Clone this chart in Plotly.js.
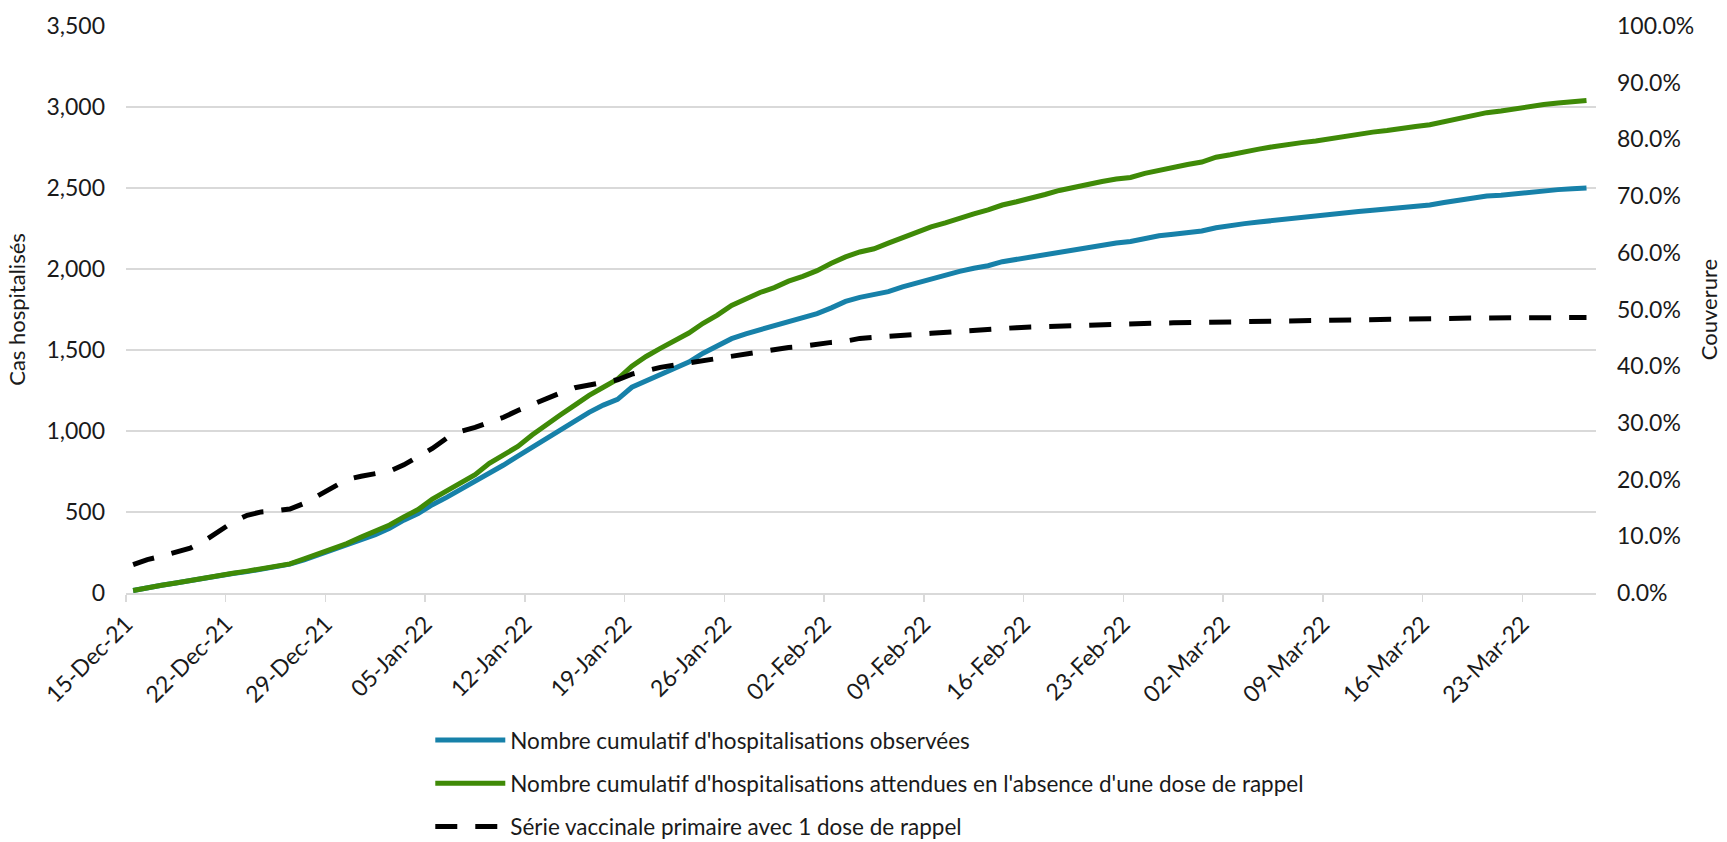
<!DOCTYPE html>
<html>
<head>
<meta charset="utf-8">
<script src="https://cdn.plot.ly/plotly-3.0.1.min.js"></script>
<style>html,body{margin:0;padding:0;background:#fff;}#chart{width:1727px;height:842px;}</style>
</head>
<body>
<div id="chart"></div>
<script>
// Daily series starting 15-Dec-21 (103 days, to 27-Mar-22)
const startDate = '2021-12-15';
const seriesNames = [
  "Nombre cumulatif d'hospitalisations observées",
  "Nombre cumulatif d'hospitalisations attendues en l'absence d'une dose de rappel",
  "Série vaccinale primaire avec 1 dose de rappel"
];
const observed = [
  15,35,48,62,78,95,108,120,132,147,162,178,205,235,265,295,325,360,400,450,
  490,545,590,640,685,740,790,845,900,955,1010,1065,1115,1160,1195,1270,1310,1345,1385,1425,
  1480,1525,1570,1600,1625,1645,1670,1695,1725,1760,1800,1825,1840,1860,1890,1915,1935,1960,1985,2005,
  2020,2045,2060,2070,2090,2105,2120,2130,2145,2160,2170,2190,2205,2215,2225,2235,2255,2270,2280,2290,
  2300,2310,2315,2325,2340,2350,2355,2362,2370,2380,2385,2395,2410,2425,2440,2450,2455,2465,2470,2480,
  2490,2495,2500
];
const expected = [
  15,35,48,62,78,95,110,122,135,150,165,180,210,240,275,305,345,380,420,470,
  515,580,630,680,730,800,855,905,975,1040,1100,1160,1220,1270,1320,1400,1460,1510,1555,1605,
  1665,1715,1775,1815,1855,1885,1925,1955,1990,2035,2075,2105,2125,2160,2195,2230,2260,2285,2315,2340,
  2365,2395,2415,2435,2460,2485,2505,2520,2540,2555,2565,2590,2610,2630,2645,2660,2690,2705,2725,2740,
  2755,2770,2780,2790,2805,2820,2835,2845,2855,2870,2880,2890,2910,2930,2950,2965,2975,2990,3000,3015,
  3025,3035,3040
];
const coverage = [
  5.0,5.9,6.5,7.2,7.9,9.2,10.8,12.5,13.7,14.3,14.5,14.8,15.8,17.2,18.8,20.0,20.6,21.0,21.5,22.6,
  24.0,25.5,27.3,28.5,29.2,30.0,31.0,32.2,33.3,34.3,35.3,36.2,36.7,37.2,37.6,38.6,39.3,39.8,40.2,40.6,
  40.9,41.3,41.9,42.3,42.7,43.1,43.3,43.5,43.9,44.2,44.4,44.9,45.1,45.2,45.4,45.6,45.8,46.0,46.2,46.4,
  46.5,46.6,46.8,46.9,47.0,47.1,47.2,47.3,47.35,47.4,47.45,47.5,47.6,47.65,47.7,47.75,47.8,47.85,47.9,47.95,
  48.0,48.05,48.1,48.1,48.15,48.2,48.2,48.25,48.3,48.3,48.35,48.4,48.4,48.45,48.5,48.5,48.5,48.55,48.55,48.6,
  48.6,48.6,48.6
];
const yLeftTitle = 'Cas hospitalisés';
const yRightTitle = 'Couverure';

// build the daily date categories (each point centred in its day)
const dates = observed.map((_, i) => {
  const d = new Date(startDate + 'T00:00:00Z');
  d.setUTCDate(d.getUTCDate() + i);
  return d.toISOString().slice(0, 10) + ' 12:00';
});

const FONT = 'Lato, "Open Sans", sans-serif';
const TXT = '#1a1a1a';

const traces = [
  {x: dates, y: observed, name: seriesNames[0], type: 'scatter', mode: 'lines',
   line: {color: '#1781A9', width: 5}, legendgroup: 'a', hoverinfo: 'x+y'},
  {x: dates, y: expected, name: seriesNames[1], type: 'scatter', mode: 'lines',
   line: {color: '#3F8A07', width: 5}, legendgroup: 'b', hoverinfo: 'x+y'},
  {x: dates, y: coverage, name: seriesNames[2], type: 'scatter', mode: 'lines', yaxis: 'y2',
   line: {color: '#000000', width: 5, dash: '22px,18px'}, legendgroup: 'c', hoverinfo: 'x+y'}
];

const layout = {
  width: 1727, height: 842,
  margin: {l: 126, r: 131, t: 26, b: 249, autoexpand: false},
  paper_bgcolor: '#fff', plot_bgcolor: '#fff',
  font: {family: FONT, size: 22, color: TXT},
  showlegend: true,
  legend: {
    orientation: 'v', x: 0.207, xanchor: 'left', y: -0.222, yanchor: 'top',
    traceorder: 'grouped', tracegroupgap: 11, itemwidth: 70,
    font: {family: FONT, size: 22.5, color: TXT}, bgcolor: 'rgba(0,0,0,0)'
  },
  xaxis: {
    type: 'date', automargin: false,
    range: ['2021-12-15 00:00', '2022-03-28 04:00'],
    tick0: '2021-12-15', dtick: 7 * 86400000,
    tickformat: '%d-%b-%y', tickangle: -45,
    ticks: 'outside', ticklen: 7, tickwidth: 1.5, tickcolor: '#d9d9d9',
    showline: true, linecolor: '#d9d9d9', linewidth: 1.5,
    showgrid: false, zeroline: false,
    tickfont: {family: FONT, size: 23, color: TXT}
  },
  yaxis: {
    range: [0, 3500], dtick: 500, tickformat: ',d', automargin: false,
    showgrid: true, gridcolor: '#d9d9d9', gridwidth: 1.5,
    zeroline: false, showline: false, ticks: '',
    ticklabelstandoff: 20,
    tickfont: {family: FONT, size: 23, color: TXT},
    title: {text: yLeftTitle, font: {family: FONT, size: 22, color: TXT}, standoff: 14}
  },
  yaxis2: {
    overlaying: 'y', side: 'right', automargin: false,
    range: [0, 100], dtick: 10, tickformat: '.1f', ticksuffix: '%',
    showgrid: false, zeroline: false, showline: false, ticks: '',
    ticklabelstandoff: 20,
    tickfont: {family: FONT, size: 23, color: TXT},
    title: {text: yRightTitle, font: {family: FONT, size: 22, color: TXT}, standoff: 8}
  }
};

Plotly.newPlot('chart', traces, layout, {displayModeBar: false, staticPlot: true});
</script>
</body>
</html>
